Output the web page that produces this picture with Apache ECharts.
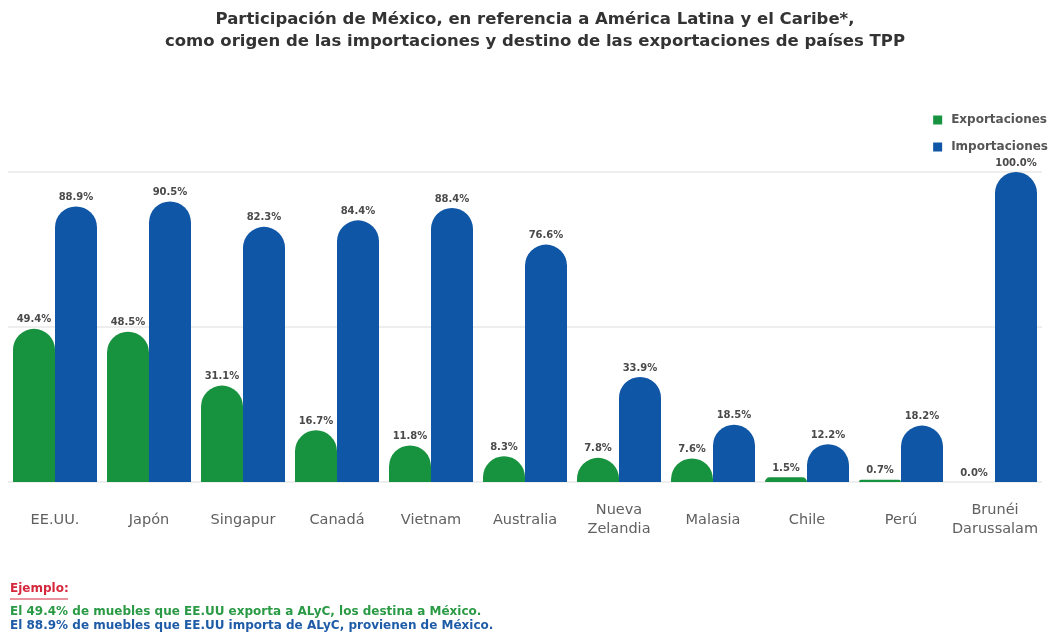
<!DOCTYPE html>
<html>
<head>
<meta charset="utf-8">
<script src="https://cdn.jsdelivr.net/npm/echarts@6/dist/echarts.min.js"></script>
<style>html,body{margin:0;padding:0;background:#fff}#c{width:1057px;height:634px}</style>
</head>
<body>
<div id="c"></div>
<script>
const categories = ['EE.UU.', 'Japón', 'Singapur', 'Canadá', 'Vietnam', 'Australia', 'Nueva\nZelandia', 'Malasia', 'Chile', 'Perú', 'Brunéi\nDarussalam'];
const exportaciones = [49.4, 48.5, 31.1, 16.7, 11.8, 8.3, 7.8, 7.6, 1.5, 0.7, 0.0];
const importaciones = [88.9, 90.5, 82.3, 84.4, 88.4, 76.6, 33.9, 18.5, 12.2, 18.2, 100.0];
const seriesNames = ['Exportaciones', 'Importaciones'];
const titleText = 'Participación de México, en referencia a América Latina y el Caribe*,\ncomo origen de las importaciones y destino de las exportaciones de países TPP';
const noteTitle = 'Ejemplo:';
const noteExport = 'El 49.4% de muebles que EE.UU exporta a ALyC, los destina a México.';
const noteImport = 'El 88.9% de muebles que EE.UU importa de ALyC, provienen de México.';

const GREEN = '#17923e';
const BLUE = '#0f56a6';
const FONT = '"DejaVu Sans", sans-serif';

const chart = echarts.init(document.getElementById('c'));
const labelCfg = {
  show: true,
  position: 'top',
  distance: 4,
  fontFamily: FONT,
  fontSize: 10,
  fontWeight: 'bold',
  color: '#4a4a4a',
  formatter: p => p.value.toFixed(1) + '%'
};
chart.setOption({
  animation: false,
  title: {
    text: titleText,
    left: 530,
    textAlign: 'center',
    top: 4,
    textStyle: { fontFamily: FONT, fontSize: 16.5, fontWeight: 'bold', color: '#333', lineHeight: 22 }
  },
  legend: {
    orient: 'vertical',
    right: 4,
    top: 109,
    itemWidth: 9,
    itemHeight: 9,
    itemGap: 15,
    icon: 'rect',
    data: seriesNames,
    textStyle: { fontFamily: FONT, fontSize: 12, fontWeight: 'bold', color: '#555', padding: [0, 0, 0, 4] }
  },
  grid: { left: 8, right: 15, top: 172, bottom: 152, containLabel: false },
  xAxis: {
    type: 'category',
    data: categories,
    axisLine: { show: false },
    axisTick: { show: false },
    axisLabel: {
      interval: 0,
      margin: 38,
      verticalAlign: 'middle',
      fontFamily: FONT,
      fontSize: 14.5,
      lineHeight: 19,
      color: '#606060'
    }
  },
  yAxis: {
    type: 'value',
    min: 0,
    max: 100,
    interval: 50,
    axisLabel: { show: false },
    axisLine: { show: false },
    axisTick: { show: false },
    splitLine: { lineStyle: { color: '#e8e8e8', width: 1.5 } }
  },
  series: [
    {
      name: seriesNames[0],
      type: 'bar',
      data: exportaciones,
      barWidth: 42,
      barGap: '0%',
      itemStyle: { color: GREEN, borderRadius: [21, 21, 0, 0] },
      label: labelCfg
    },
    {
      name: seriesNames[1],
      type: 'bar',
      data: importaciones,
      barWidth: 42,
      barGap: '0%',
      itemStyle: { color: BLUE, borderRadius: [21, 21, 0, 0] },
      label: labelCfg
    }
  ],
  graphic: [
    { type: 'text', left: 10, top: 583, style: { text: noteTitle, fontFamily: FONT, fontSize: 12, fontWeight: 'bold', fill: '#d6283c' } },
    { type: 'line', shape: { x1: 10, y1: 599, x2: 68, y2: 599 }, style: { stroke: '#d6283c', lineWidth: 1 } },
    { type: 'text', left: 10, top: 606, style: { text: noteExport, fontFamily: FONT, fontSize: 12, fontWeight: 'bold', fill: '#2a9a45' } },
    { type: 'text', left: 10, top: 620, style: { text: noteImport, fontFamily: FONT, fontSize: 12, fontWeight: 'bold', fill: '#1f5ca8' } }
  ]
});
</script>
</body>
</html>
